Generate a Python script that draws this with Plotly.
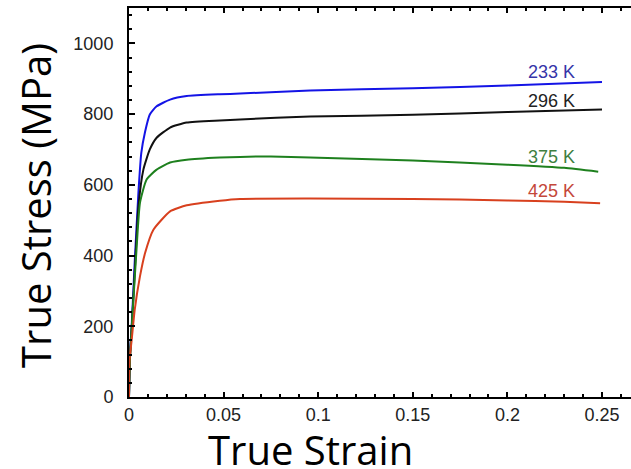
import plotly.graph_objects as go

# ---- data ----
strain_233 = [0, 0.0005, 0.0014, 0.003, 0.005, 0.0065, 0.0085, 0.011, 0.0146, 0.0217, 0.0305, 0.048, 0.0587, 0.0957, 0.15, 0.2, 0.25]
stress_233 = [0, 120, 200, 380, 580, 690, 750, 799, 822, 841, 851, 856, 858, 867, 873, 881, 891]

strain_296 = [0, 0.0005, 0.0015, 0.003, 0.005, 0.0076, 0.011, 0.0146, 0.0217, 0.0305, 0.048, 0.0587, 0.0957, 0.15, 0.2, 0.25]
stress_296 = [0, 110, 200, 350, 540, 643, 700, 733, 762, 776, 782, 785, 793, 798, 806, 813]

strain_375 = [0, 0.0005, 0.002, 0.004, 0.0058, 0.0093, 0.0146, 0.0217, 0.0305, 0.048, 0.0587, 0.075, 0.0957, 0.15, 0.2, 0.23, 0.248]
stress_375 = [0, 110, 246, 420, 549, 615, 643, 663, 671, 677, 679, 680, 677, 669, 657, 648, 637]

strain_425 = [0, 0.0003, 0.0014, 0.003, 0.0058, 0.0085, 0.0129, 0.0217, 0.0305, 0.048, 0.0587, 0.0957, 0.15, 0.2, 0.23, 0.249]
stress_425 = [0, 105, 161, 246, 341, 407, 473, 525, 542, 555, 560, 561, 560, 556, 552, 548]

series = [
    ("233 K", strain_233, stress_233, "#1414e6", "#3535a8", 918),
    ("296 K", strain_296, stress_296, "#111111", "#222222", 838),
    ("375 K", strain_375, stress_375, "#1e801e", "#3f7f3f", 678),
    ("425 K", strain_425, stress_425, "#d8401e", "#c4473a", 582),
]
label_x = 0.2233

x_ticks = [0, 0.05, 0.1, 0.15, 0.2, 0.25]
y_ticks = [0, 200, 400, 600, 800, 1000]

fig = go.Figure()
for name, xs, ys, lc, tc, ly in series:
    fig.add_trace(go.Scatter(x=xs, y=ys, mode="lines", name=name,
                             line=dict(color=lc, width=2, shape="spline", smoothing=0.5),
                             showlegend=False))
    fig.add_annotation(x=label_x, y=ly, text=name, showarrow=False,
                       font=dict(family="Liberation Sans", size=18, color=tc),
                       xanchor="center", yanchor="middle")

fig.add_annotation(x=310, y=449, xref="paper", yref="paper", text="True Strain", showarrow=False,
                   font=dict(family="Open Sans", size=40, color="#000"))
fig.add_annotation(x=36, y=206, xref="paper", yref="paper", text="True Stress (MPa)", showarrow=False,
                   textangle=-90, font=dict(family="Open Sans", size=40, color="#000"))

# convert pixel positions of the titles into paper coords
L, R, T, B = 129, 0, 8, 72
W, H = 631, 469
pw, ph = W - L - R, H - T - B
for a in fig.layout.annotations[-2:]:
    a.x = (a.x - L) / pw
    a.y = (H - B - a.y) / ph
    a.xanchor = "center"
    a.yanchor = "middle"

fig.update_layout(
    width=W, height=H,
    margin=dict(l=L, r=R, t=T, b=B, autoexpand=False),
    paper_bgcolor="white", plot_bgcolor="white",
    xaxis=dict(range=[0, 0.25 * (W - L) / 473], tickvals=x_ticks, ticktext=["0", "0.05", "0.1", "0.15", "0.2", "0.25"],
               ticks="inside", ticklen=5, tickwidth=1.5, tickcolor="#000",
               minor=dict(dtick=0.01, ticks="inside", ticklen=3, tickcolor="#000", tick0=0),
               showline=True, linecolor="#000", linewidth=2, mirror="allticks",
               showgrid=False, zeroline=False,
               tickfont=dict(family="Liberation Sans", size=18, color="#222")),
    yaxis=dict(range=[0, 1100], tickvals=y_ticks,
               ticks="inside", ticklen=6, tickwidth=1.5, tickcolor="#000",
               minor=dict(dtick=40, ticks="inside", ticklen=3, tickcolor="#000", tick0=0),
               showline=True, linecolor="#000", linewidth=2,
               showgrid=False, zeroline=False, ticklabelstandoff=10,
               tickfont=dict(family="Liberation Sans", size=18, color="#222")),
)

fig.write_html("out.html")
